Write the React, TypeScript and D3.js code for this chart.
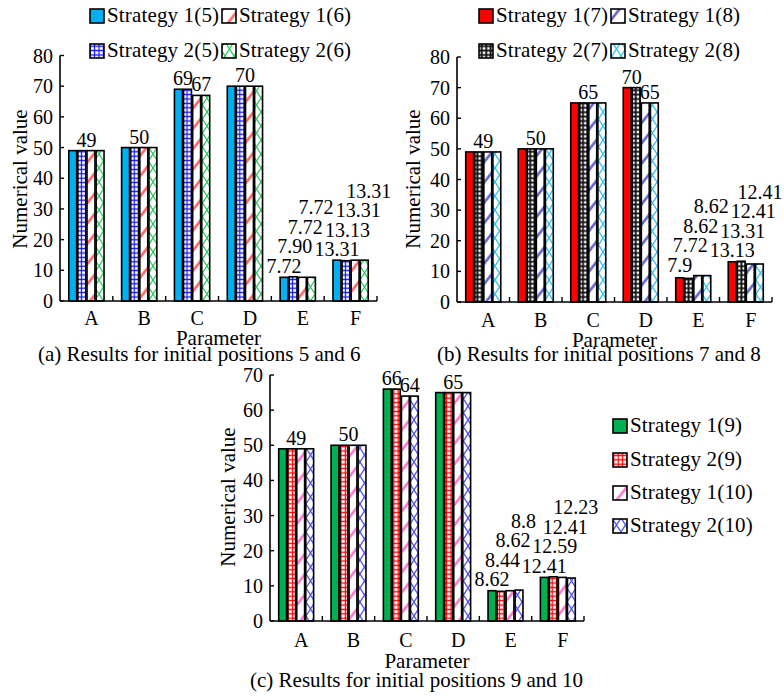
import React from "react";
import * as d3 from "d3";

const categories = ["A", "B", "C", "D", "E", "F"];
const staggeredCategories = ["E", "F"];

// Panel (a)
const seriesA = ["Strategy 1(5)", "Strategy 2(5)", "Strategy 1(6)", "Strategy 2(6)"];
const valuesA = [
  [49, 50, 69, 70, 7.72, 13.31],
  [49, 50, 69, 70, 7.9, 13.13],
  [49, 50, 67, 70, 7.72, 13.31],
  [49, 50, 67, 70, 7.72, 13.31],
];
const labelsA = [
  ["49", "50", "69", "70", "7.72", "13.31"],
  ["49", "50", "69", "70", "7.90", "13.13"],
  ["49", "50", "67", "70", "7.72", "13.31"],
  ["49", "50", "67", "70", "7.72", "13.31"],
];
const legendOrderA = [0, 2, 1, 3];

// Panel (b)
const seriesB = ["Strategy 1(7)", "Strategy 2(7)", "Strategy 1(8)", "Strategy 2(8)"];
const valuesB = [
  [49, 50, 65, 70, 7.9, 13.13],
  [49, 50, 65, 70, 7.72, 13.31],
  [49, 50, 65, 65, 8.62, 12.41],
  [49, 50, 65, 65, 8.62, 12.41],
];
const labelsB = [
  ["49", "50", "65", "70", "7.9", "13.13"],
  ["49", "50", "65", "70", "7.72", "13.31"],
  ["49", "50", "65", "65", "8.62", "12.41"],
  ["49", "50", "65", "65", "8.62", "12.41"],
];
const legendOrderB = [0, 2, 1, 3];

// Panel (c)
const seriesC = ["Strategy 1(9)", "Strategy 2(9)", "Strategy 1(10)", "Strategy 2(10)"];
const valuesC = [
  [49, 50, 66, 65, 8.62, 12.41],
  [49, 50, 66, 65, 8.44, 12.59],
  [49, 50, 64, 65, 8.62, 12.41],
  [49, 50, 64, 65, 8.8, 12.23],
];
const labelsC = [
  ["49", "50", "66", "65", "8.62", "12.41"],
  ["49", "50", "66", "65", "8.44", "12.59"],
  ["49", "50", "64", "65", "8.62", "12.41"],
  ["49", "50", "64", "65", "8.8", "12.23"],
];
const legendOrderC = [0, 1, 2, 3];

const yTicksAB = [0, 10, 20, 30, 40, 50, 60, 70, 80];
const yTicksC = [0, 10, 20, 30, 40, 50, 60, 70];

const FONT = "Liberation Serif, Times New Roman, DejaVu Serif, serif";
const FS = 20;

type Fill = { kind: "solid" | "grid" | "diag" | "cross"; color: string; sw?: number };

const fillsA: Fill[] = [
  { kind: "solid", color: "#00B0F0" },
  { kind: "grid", color: "#1010FF", sw: 1.2 },
  { kind: "diag", color: "#FF6666" },
  { kind: "cross", color: "#33CC66" },
];
const fillsB: Fill[] = [
  { kind: "solid", color: "#FF0000" },
  { kind: "grid", color: "#111111", sw: 1.9 },
  { kind: "diag", color: "#6666CC" },
  { kind: "cross", color: "#33C4F4" },
];
const fillsC: Fill[] = [
  { kind: "solid", color: "#00B050" },
  { kind: "grid", color: "#FF0000", sw: 1.3 },
  { kind: "diag", color: "#FF77CC" },
  { kind: "cross", color: "#5555EE" },
];

function PatternDef({ id, f }: { id: string; f: Fill }) {
  if (f.kind === "grid") {
    return (
      <pattern id={id} patternUnits="userSpaceOnUse" width={4.4} height={4.4}>
        <rect width={4.4} height={4.4} fill="#fff" />
        <path d="M0 2.2H4.4M2.2 0V4.4" stroke={f.color} strokeWidth={f.sw} />
      </pattern>
    );
  }
  if (f.kind === "diag") {
    return (
      <pattern id={id} patternUnits="userSpaceOnUse" width={12} height={12.5} patternTransform="rotate(-52)">
        <rect width={12} height={12.5} fill="#fff" />
        <rect y={5} width={12} height={2.6} fill={f.color} />
      </pattern>
    );
  }
  if (f.kind === "cross") {
    return (
      <pattern id={id} patternUnits="userSpaceOnUse" width={9} height={14}>
        <rect width={9} height={14} fill="#fff" />
        <path d="M0 0L9 14M9 0L0 14" stroke={f.color} strokeWidth={1.3} />
      </pattern>
    );
  }
  return null;
}

type Cfg = {
  key: string;
  series: string[];
  values: number[][];
  labels: string[][];
  legendOrder: number[];
  fills: Fill[];
  yTicks: number[];
  x0: number;
  x1: number;
  yBottom: number;
  yTop: number;
  yMax: number;
  yLabelX: number;
  yLabelY: number;
  catBaseline: number;
  paramBaseline: number;
  caption: string;
  captionX: number;
  captionBaseline: number;
  legendCols: number[];
  legendRows: number[];
};

function Panel({ cfg }: { cfg: Cfg }) {
  const x = d3.scaleBand<string>().domain(categories).range([cfg.x0, cfg.x1]);
  const y = d3.scaleLinear().domain([0, cfg.yMax]).range([cfg.yBottom, cfg.yTop]);
  const bw = x.bandwidth();
  const idx = cfg.series.map((_, i) => i);
  const inner = d3.scaleBand<number>().domain(idx).range([bw * 0.155, bw * 0.845]);
  const ib = inner.bandwidth();
  const fillOf = (i: number) =>
    cfg.fills[i].kind === "solid" ? cfg.fills[i].color : `url(#${cfg.key}-p${i})`;

  const labelEls: React.ReactNode[] = [];
  categories.forEach((c, ci) => {
    const vals = cfg.values.map((s) => s[ci]);
    if (staggeredCategories.includes(c)) {
      const top = y(d3.max(vals) as number);
      idx.forEach((i) => {
        const cx = Math.min((x(c) as number) + (inner(i) as number) + ib / 2 + i * 1.5, 760);
        labelEls.push(
          <text key={`l${c}${i}`} x={cx}
            y={top - 4 - i * 19.5} textAnchor="middle">{cfg.labels[i][ci]}</text>
        );
      });
    } else {
      let s = 0;
      while (s < vals.length) {
        let e = s;
        while (e + 1 < vals.length && vals[e + 1] === vals[s]) e++;
        const cx = (x(c) as number) + ((inner(s) as number) + (inner(e) as number) + ib) / 2;
        labelEls.push(
          <text key={`l${c}${s}`} x={cx} y={y(vals[s]) - 4} textAnchor="middle">{cfg.labels[s][ci]}</text>
        );
        s = e + 1;
      }
    }
  });

  const legendEls: React.ReactNode[] = [];
  cfg.legendOrder.forEach((si, k) => {
    const nc = cfg.legendCols.length;
    const lx = cfg.legendCols[k % nc];
    const ly = cfg.legendRows[Math.floor(k / nc)];
    legendEls.push(
      <g key={`lg${k}`}>
        <rect x={lx} y={ly} width={14} height={14} fill={fillOf(si)} stroke="#000" strokeWidth={1.6} />
        <text x={lx + 17} y={ly + 13} style={{ fontSize: 21, letterSpacing: 0.15 }}>{cfg.series[si]}</text>
      </g>
    );
  });

  return (
    <g style={{ fontFamily: FONT, fontSize: FS }} fill="#000">
      <defs>
        {cfg.fills.map((f, i) => (
          <PatternDef key={i} id={`${cfg.key}-p${i}`} f={f} />
        ))}
      </defs>
      {categories.map((c, ci) =>
        idx.map((i) => (
          <rect key={`b${c}${i}`}
            x={(x(c) as number) + (inner(i) as number) + 0.6}
            y={y(cfg.values[i][ci])}
            width={ib - 1.2}
            height={cfg.yBottom - y(cfg.values[i][ci])}
            fill={fillOf(i)} stroke="#000" strokeWidth={1.6} />
        ))
      )}
      <line x1={cfg.x0} x2={cfg.x0} y1={cfg.yBottom} y2={y(cfg.yMax)} stroke="#000" strokeWidth={1.6} />
      <line x1={cfg.x0} x2={cfg.x1} y1={cfg.yBottom} y2={cfg.yBottom} stroke="#000" strokeWidth={1.6} />
      {cfg.yTicks.map((t) => (
        <g key={`yt${t}`}>
          <line x1={cfg.x0} x2={cfg.x0 + 4} y1={y(t)} y2={y(t)} stroke="#000" strokeWidth={1.4} />
          <text x={cfg.x0 - 7} y={y(t)} dy="0.35em" textAnchor="end">{t}</text>
        </g>
      ))}
      {categories.map((c) => (
        <g key={`xt${c}`}>
          <line x1={(x(c) as number) + bw} x2={(x(c) as number) + bw} y1={cfg.yBottom} y2={cfg.yBottom - 5}
            stroke="#000" strokeWidth={1.4} />
          <text x={(x(c) as number) + bw / 2 + 5} y={cfg.catBaseline} textAnchor="middle">{c}</text>
        </g>
      ))}
      {labelEls}
      <text transform={`translate(${cfg.yLabelX},${cfg.yLabelY}) rotate(-90)`} textAnchor="middle"
        style={{ fontSize: 21 }}>Numerical value</text>
      <text x={(cfg.x0 + cfg.x1) / 2} y={cfg.paramBaseline} textAnchor="middle" style={{ fontSize: 21 }}>Parameter</text>
      <text x={cfg.captionX} y={cfg.captionBaseline} style={{ fontSize: 21 }}>{cfg.caption}</text>
      {legendEls}
    </g>
  );
}

const panels: Cfg[] = [
  {
    key: "pa", series: seriesA, values: valuesA, labels: labelsA, legendOrder: legendOrderA, fills: fillsA,
    yTicks: yTicksAB, x0: 60, x1: 377, yBottom: 301, yTop: 55.5, yMax: 80,
    yLabelX: 27, yLabelY: 179, catBaseline: 325, paramBaseline: 345,
    caption: "(a) Results for initial positions 5 and 6", captionX: 38, captionBaseline: 361,
    legendCols: [90, 222], legendRows: [9, 44],
  },
  {
    key: "pb", series: seriesB, values: valuesB, labels: labelsB, legendOrder: legendOrderB, fills: fillsB,
    yTicks: yTicksAB, x0: 457, x1: 772, yBottom: 302, yTop: 57, yMax: 80,
    yLabelX: 420, yLabelY: 179, catBaseline: 327, paramBaseline: 347,
    caption: "(b) Results for initial positions 7 and 8", captionX: 437, captionBaseline: 361,
    legendCols: [479, 611], legendRows: [9, 44],
  },
  {
    key: "pc", series: seriesC, values: valuesC, labels: labelsC, legendOrder: legendOrderC, fills: fillsC,
    yTicks: yTicksC, x0: 270, x1: 584, yBottom: 621, yTop: 375, yMax: 70,
    yLabelX: 235, yLabelY: 497, catBaseline: 647, paramBaseline: 668,
    caption: "(c) Results for initial positions 9 and 10", captionX: 250, captionBaseline: 687,
    legendCols: [613], legendRows: [419, 453, 486, 519],
  },
];

export default function App() {
  return (
    <svg width={784} height={696} style={{ position: "absolute", left: 0, top: 0, background: "#fff" }}>
      <rect width={784} height={696} fill="#fff" />
      {panels.map((p) => (
        <Panel key={p.key} cfg={p} />
      ))}
    </svg>
  );
}
